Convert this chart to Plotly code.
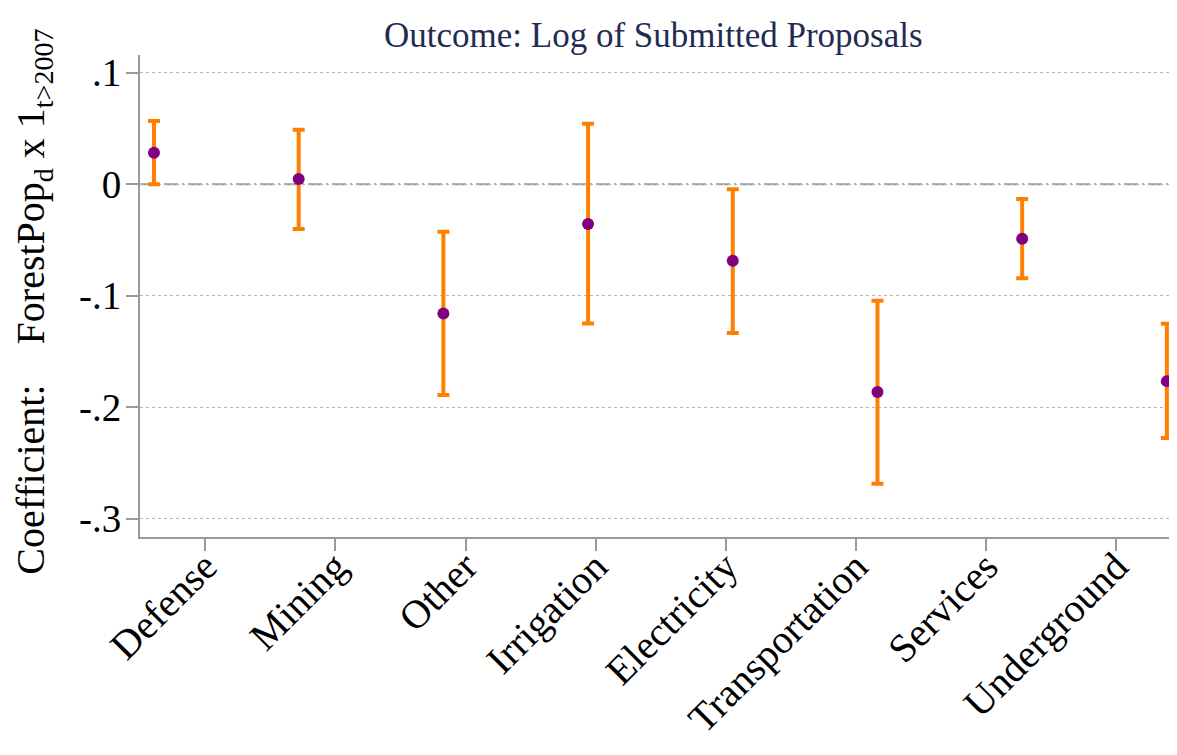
import plotly.graph_objects as go

categories = ["Defense", "Mining", "Other", "Irrigation", "Electricity",
              "Transportation", "Services", "Underground"]
coef = [0.0283, 0.0047, -0.116, -0.0356, -0.0687, -0.1864, -0.049, -0.1766]
ci_upper = [0.0568, 0.0489, -0.0427, 0.0543, -0.0045, -0.1046, -0.0132, -0.1252]
ci_lower = [0.0, -0.0401, -0.189, -0.125, -0.1335, -0.2686, -0.0843, -0.2276]
ytick_vals = [0.1, 0, -0.1, -0.2, -0.3]
ytick_text = [".1", "0", "-.1", "-.2", "-.3"]

positions = list(range(1, len(categories) + 1))
# category label ticks are laid out on their own (narrower) spacing
label_start, label_step = 1.3545, 0.8995
label_pos = [label_start + label_step * i for i in range(len(categories))]

err_plus = [u - c for u, c in zip(ci_upper, coef)]
err_minus = [c - l for c, l in zip(coef, ci_lower)]

FONT = "Liberation Serif"
GRAY = "#9a9a9a"

# page body has an 8px margin: plot area in figure coordinates
L, T, R, B = 132, 47, 1169, 529.5
W, H = 1177, 755

fig = go.Figure()
fig.add_trace(go.Scatter(
    x=positions, y=coef, mode="markers", cliponaxis=False,
    marker=dict(color="#800080", size=12),
    error_y=dict(type="data", array=err_plus, arrayminus=err_minus,
                 color="#FF8000", thickness=4, width=6),
    showlegend=False, hoverinfo="skip",
))

fig.add_shape(type="line", xref="paper", yref="y", x0=0, x1=1, y0=0, y1=0,
              line=dict(color=GRAY, width=2, dash="14px,4px,2px,4px"), layer="below")

fig.update_layout(
    width=W, height=H,
    margin=dict(l=L, r=W - R, t=T, b=H - B, autoexpand=False),
    paper_bgcolor="white", plot_bgcolor="white",
    font=dict(family=FONT, color="black"),
    title=dict(text="Outcome: Log of Submitted Proposals", x=0.495, xref="paper",
               xanchor="center", y=1 - 27 / H, yanchor="middle",
               font=dict(family=FONT, size=35, color="#1f2c52")),
    xaxis=dict(range=[0.9033, 8.07], tickmode="array", tickvals=label_pos,
               ticktext=categories, tickangle=-45, ticks="outside", ticklen=12,
               tickwidth=1.5, tickcolor=GRAY, showline=True, linecolor=GRAY,
               linewidth=2, showgrid=False, zeroline=False, automargin=False,
               ticklabelstandoff=-24,
               tickfont=dict(family=FONT, size=40, color="black")),
    yaxis=dict(range=[-0.3164, 0.1159], tickmode="array", tickvals=ytick_vals,
               ticktext=ytick_text, ticks="outside", ticklen=12, tickwidth=1.5,
               tickcolor=GRAY, showline=True, linecolor=GRAY, linewidth=2,
               showgrid=True, gridcolor="#b5b5b5", gridwidth=1, griddash="dot",
               zeroline=False, automargin=False, ticklabelstandoff=-3,
               tickfont=dict(family=FONT, size=39, color="black")),
    annotations=[dict(
        text="Coefficient:&nbsp;&nbsp;&nbsp;&nbsp;ForestPop<sub>d</sub> x 1<sub>t&gt;2007</sub>",
        textangle=-90, xref="paper", yref="paper",
        x=(25 - L) / (R - L), y=(B - 294) / (B - T),
        xanchor="center", yanchor="middle", showarrow=False,
        font=dict(family=FONT, size=40, color="black"))],
)

fig.write_html("out.html")
